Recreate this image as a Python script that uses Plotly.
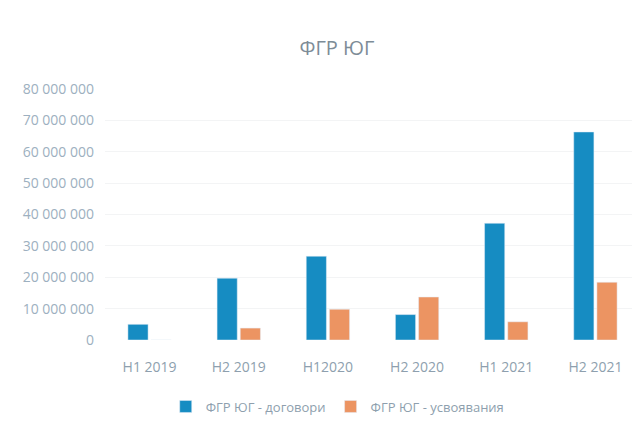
import plotly.graph_objects as go

categories = ["H1 2019", "H2 2019", "H12020", "H2 2020", "H1 2021", "H2 2021"]
contracts = [5000000, 19700000, 26700000, 8100000, 37200000, 66300000]
disbursed = [0, 3800000, 9800000, 13700000, 5800000, 18400000]
series_names = ["ФГР ЮГ - договори", "ФГР ЮГ - усвоявания"]
y_ticks = [0, 10000000, 20000000, 30000000, 40000000, 50000000, 60000000, 70000000, 80000000]

fig = go.Figure()
fig.add_trace(go.Bar(x=categories, y=contracts, name=series_names[0], marker_color="#168cc2"))
fig.add_trace(go.Bar(x=categories, y=disbursed, name=series_names[1], marker_color="#ec9462"))

fig.update_layout(
    width=640, height=421,
    paper_bgcolor="white", plot_bgcolor="white",
    margin=dict(l=97, r=8, t=81, b=89),
    separators=", ",
    font=dict(family="Open Sans", color="#8e9fae"),
    title=dict(text="ФГР ЮГ", x=0.514, xanchor="center", y=0.905, yanchor="middle",
               font=dict(size=20, color="#7d8c97", family="Open Sans")),
    barmode="group", bargap=0.48, bargroupgap=0.13,
    legend=dict(orientation="h", x=0.435, xanchor="center", y=-0.265, yanchor="middle",
                itemwidth=30, font=dict(size=13, color="#8e9fae")),
    showlegend=True,
)
fig.update_xaxes(showgrid=False, showline=False, ticks="", ticklabelstandoff=17,
                 tickfont=dict(size=14, color="#8e9fae"))
fig.update_yaxes(range=[0, 80000000], tickvals=y_ticks, tickformat=",d",
                 showgrid=True, gridcolor="#f3f4f5", zeroline=False,
                 tickfont=dict(size=14, color="#9db0c0"), ticklabelstandoff=10)

fig.write_html("out.html")
